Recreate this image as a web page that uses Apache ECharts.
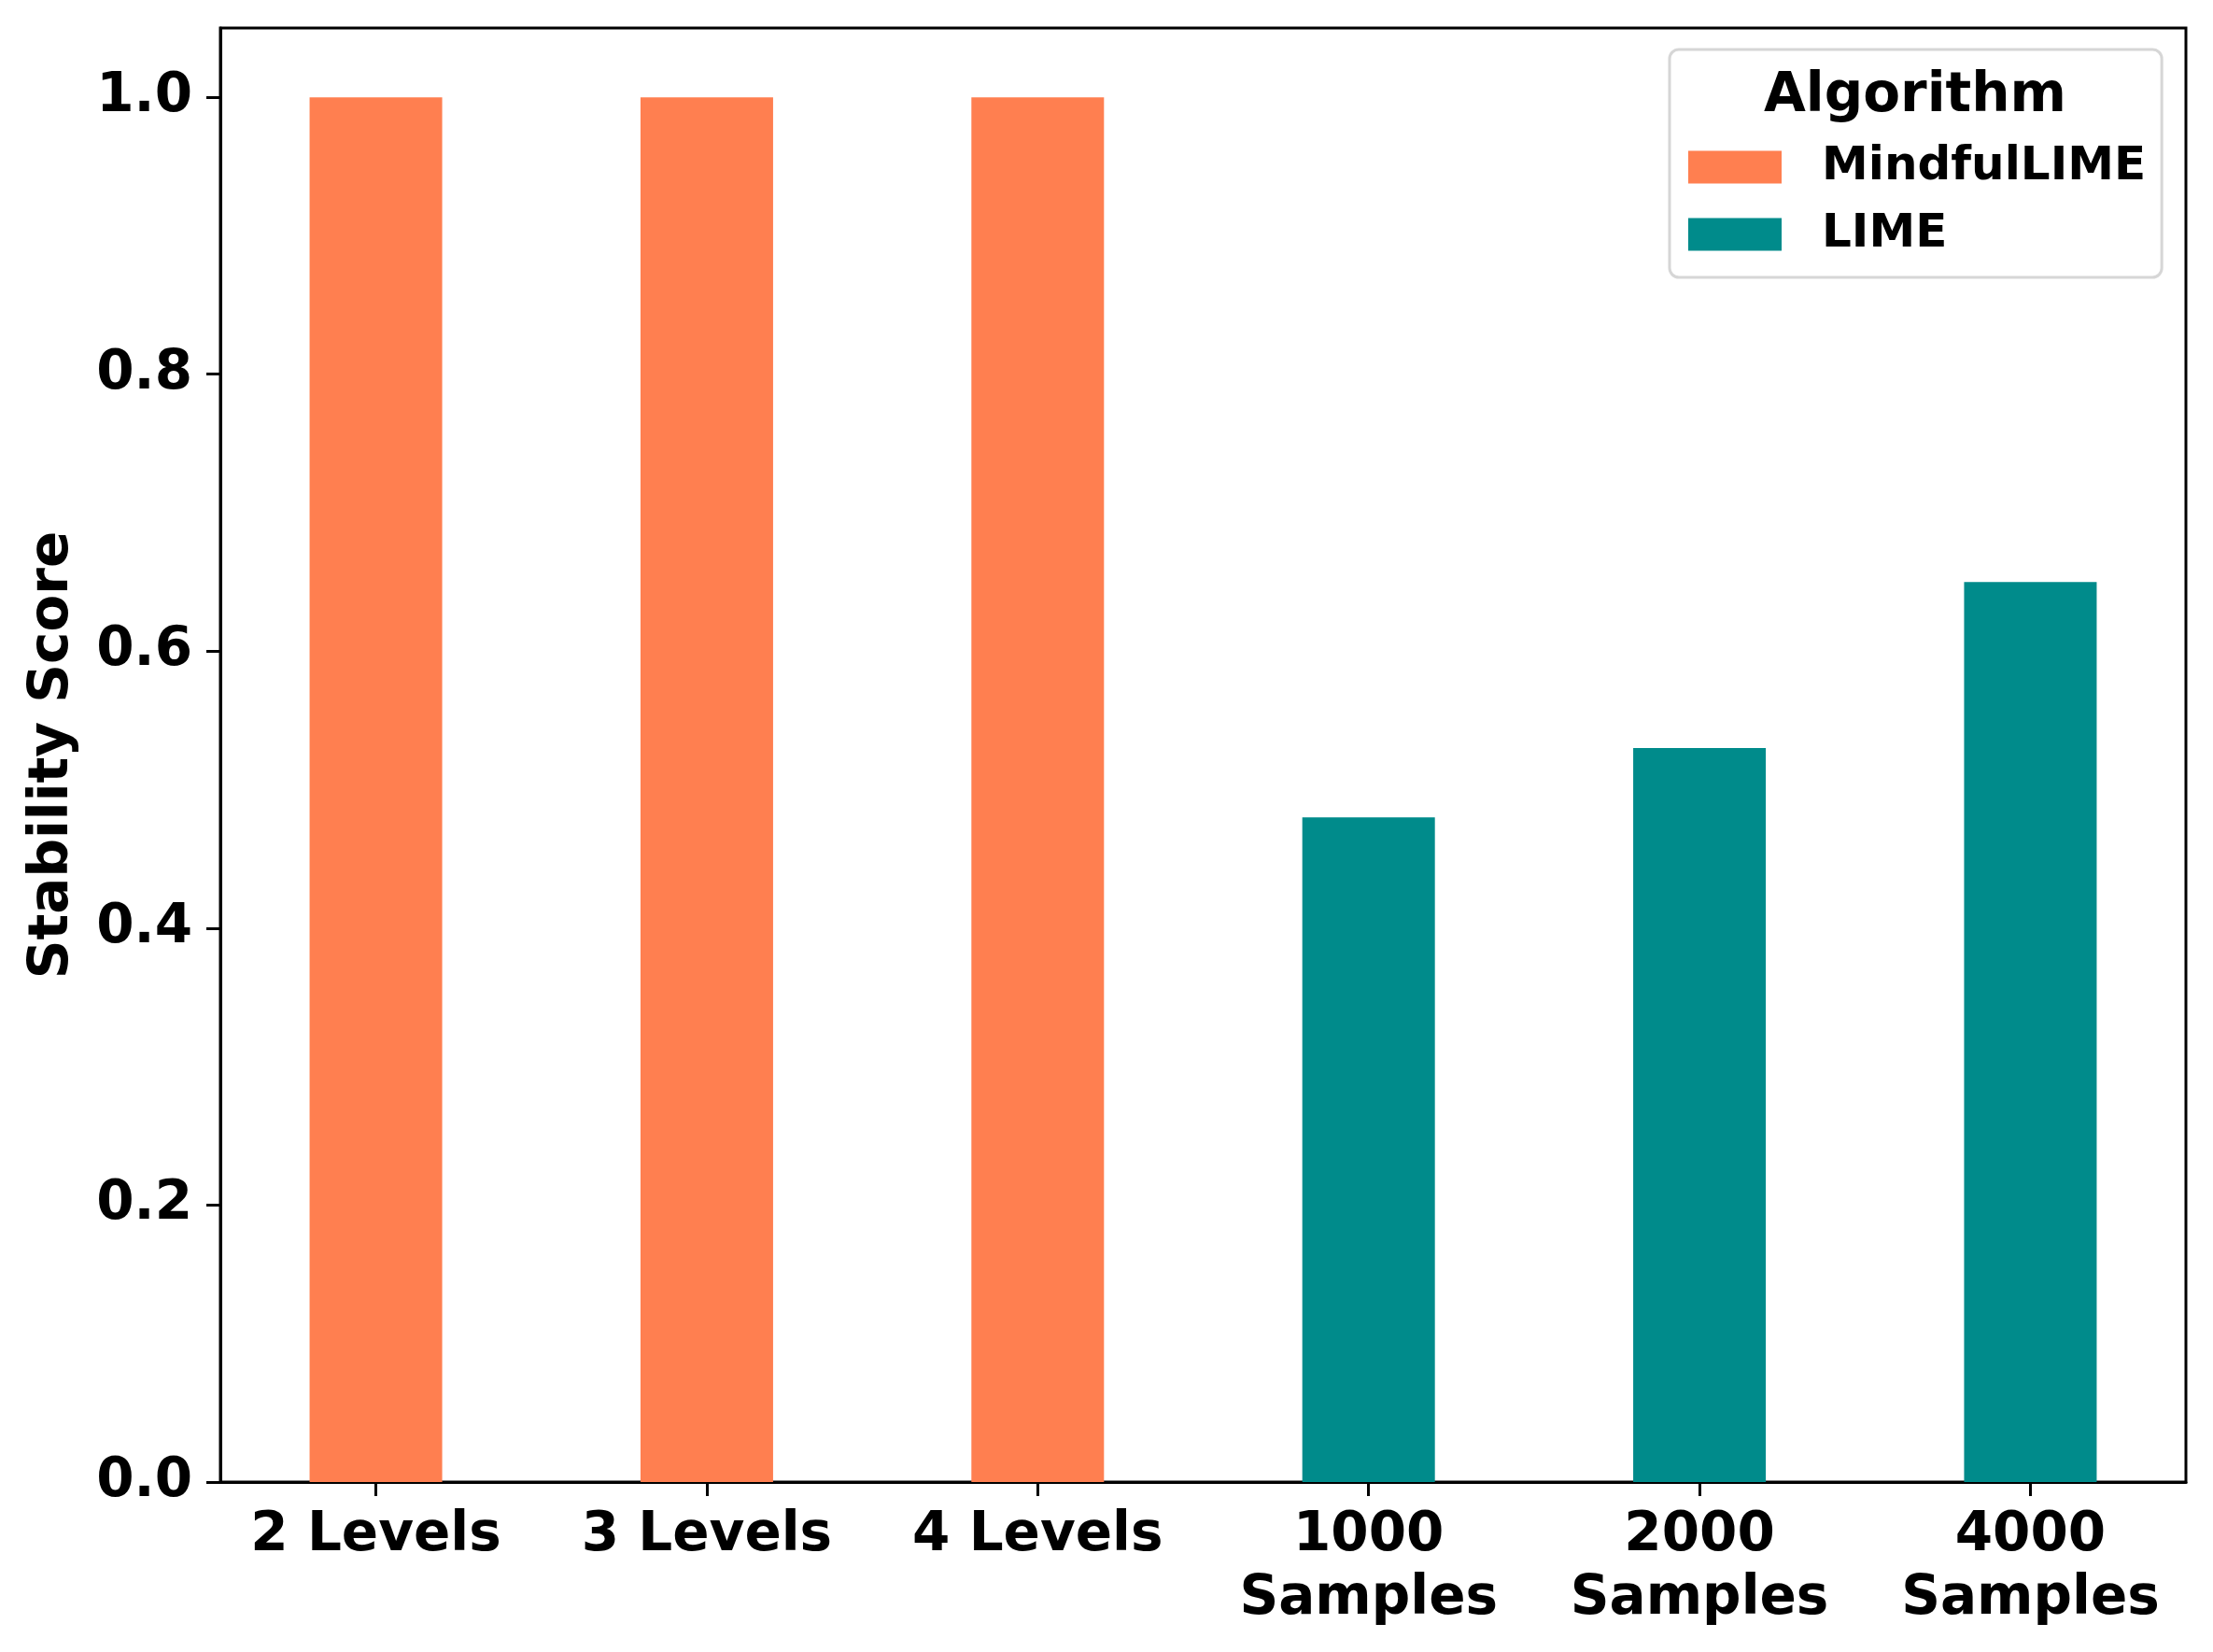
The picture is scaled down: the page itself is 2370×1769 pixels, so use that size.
<!DOCTYPE html>
<html>
<head>
<meta charset="utf-8">
<script src="https://cdn.jsdelivr.net/npm/echarts@6/dist/echarts.min.js"></script>
<style>
  html, body { margin: 0; padding: 0; background: #fff; }
  #chart { width: 2370px; height: 1769px; }
</style>
</head>
<body>
<div id="chart"></div>
<script>
// data
const categories = ['2 Levels', '3 Levels', '4 Levels', '1000\nSamples', '2000\nSamples', '4000\nSamples'];
const mindfulLime = [1.0, 1.0, 1.0, null, null, null];
const lime = [null, null, null, 0.48, 0.53, 0.65];
const yTicks = [0, 0.2, 0.4, 0.6, 0.8, 1.0];

const FONT = 'DejaVu Sans';
const catIdx = categories.map(function (c, i) { return i; });

function toPoints(vals) {
  const res = [];
  vals.forEach(function (v, i) {
    if (v !== null) res.push([i, v]);
  });
  return res;
}

const chart = echarts.init(document.getElementById('chart'));

const option = {
  backgroundColor: '#ffffff',
  animation: false,
  grid: {
    left: 236,
    right: 29,
    top: 30,
    bottom: 182,
    show: true,
    borderColor: '#000',
    borderWidth: 3,
    containLabel: false
  },
  graphic: [
    {
      type: 'text',
      z: 100,
      style: {
        text: 'Algorithm',
        x: 2051,
        y: 104,
        textAlign: 'center',
        textVerticalAlign: 'middle',
        font: 'bold 58px "DejaVu Sans"',
        fill: '#000'
      }
    }
  ],
  legend: {
    orient: 'vertical',
    left: 1788,
    top: 53,
    padding: [101, 17, 21, 20],
    itemWidth: 100,
    itemHeight: 35,
    itemGap: 22,
    borderColor: '#d6d6d6',
    borderWidth: 3,
    borderRadius: 10,
    backgroundColor: '#fff',
    icon: 'rect',
    data: ['MindfulLIME', 'LIME'],
    textStyle: {
      fontFamily: FONT,
      fontWeight: 'bold',
      fontSize: 50,
      lineHeight: 50,
      color: '#000',
      padding: [0, 0, 0, 38]
    }
  },
  xAxis: {
    type: 'value',
    min: -0.47,
    max: 5.47,
    splitLine: { show: false },
    axisLine: { show: true, onZero: false, lineStyle: { color: '#000', width: 3 } },
    axisTick: {
      show: true,
      customValues: catIdx,
      length: 15,
      lineStyle: { color: '#000', width: 3 }
    },
    axisLabel: {
      customValues: catIdx,
      margin: 24,
      fontFamily: FONT,
      fontWeight: 'bold',
      fontSize: 58,
      lineHeight: 68,
      color: '#000',
      align: 'center',
      formatter: function (v) { return categories[Math.round(v)]; }
    }
  },
  yAxis: {
    type: 'value',
    min: 0,
    max: 1.05,
    name: 'Stability Score',
    nameLocation: 'middle',
    nameGap: 150,
    nameTextStyle: {
      fontFamily: FONT,
      fontWeight: 'bold',
      fontSize: 58,
      color: '#000'
    },
    splitLine: { show: false },
    axisLine: { show: true, onZero: false, lineStyle: { color: '#000', width: 3 } },
    axisTick: {
      show: true,
      customValues: yTicks,
      length: 15,
      lineStyle: { color: '#000', width: 3 }
    },
    axisLabel: {
      customValues: yTicks,
      margin: 30,
      fontFamily: FONT,
      fontWeight: 'bold',
      fontSize: 58,
      color: '#000',
      formatter: function (v) { return v.toFixed(1); }
    }
  },
  series: [
    {
      name: 'MindfulLIME',
      type: 'bar',
      stack: 'all',
      barWidth: 142,
      itemStyle: { color: '#FF7F50' },
      data: toPoints(mindfulLime)
    },
    {
      name: 'LIME',
      type: 'bar',
      stack: 'all',
      barWidth: 142,
      itemStyle: { color: '#008B8B' },
      data: toPoints(lime)
    }
  ]
};

chart.setOption(option);
</script>
</body>
</html>
